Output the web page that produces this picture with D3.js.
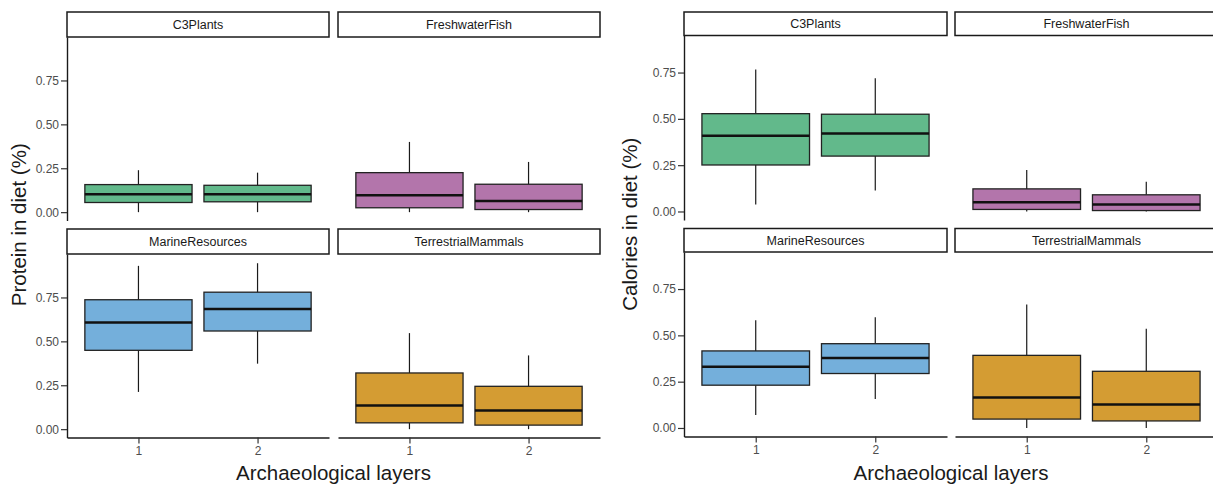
<!DOCTYPE html>
<html>
<head>
<meta charset="utf-8">
<script src="https://cdn.jsdelivr.net/npm/d3@7.9.0/dist/d3.min.js"></script>
<style>
  html, body { margin: 0; padding: 0; background: #fff; }
  svg { display: block; font-family: "Liberation Sans", Arial, sans-serif; }
</style>
</head>
<body>
<svg id="chart" width="1213" height="485"></svg>
<script>
// Facets (food groups) and archaeological layers
const facets = ['C3Plants', 'FreshwaterFish', 'MarineResources', 'TerrestrialMammals'];
const layers = ['1', '2'];
const facetColors = ['#62b98b', '#b375ab', '#74afdb', '#d49c33'];
const yTicks = [0, 0.25, 0.5, 0.75];

// Box stats per facet & layer: [facet, layer, min, q1, median, q3, max]
const proteinBoxes = [
  ['C3Plants', '1', 0.0, 0.055, 0.102, 0.157, 0.239],
  ['C3Plants', '2', 0.0, 0.059, 0.102, 0.153, 0.225],
  ['FreshwaterFish', '1', 0.0, 0.025, 0.097, 0.225, 0.40],
  ['FreshwaterFish', '2', 0.0, 0.015, 0.064, 0.159, 0.286],
  ['MarineResources', '1', 0.212, 0.449, 0.608, 0.737, 0.930],
  ['MarineResources', '2', 0.373, 0.559, 0.684, 0.780, 0.945],
  ['TerrestrialMammals', '1', 0.0, 0.036, 0.135, 0.320, 0.547],
  ['TerrestrialMammals', '2', 0.0, 0.023, 0.106, 0.244, 0.420],
];

const calorieBoxes = [
  ['C3Plants', '1', 0.038, 0.251, 0.409, 0.528, 0.767],
  ['C3Plants', '2', 0.113, 0.299, 0.421, 0.525, 0.719],
  ['FreshwaterFish', '1', 0.0, 0.011, 0.050, 0.122, 0.224],
  ['FreshwaterFish', '2', 0.0, 0.005, 0.038, 0.090, 0.161],
  ['MarineResources', '1', 0.070, 0.231, 0.330, 0.416, 0.581],
  ['MarineResources', '2', 0.156, 0.294, 0.378, 0.455, 0.598],
  ['TerrestrialMammals', '1', 0.0, 0.048, 0.165, 0.392, 0.667],
  ['TerrestrialMammals', '2', 0.0, 0.038, 0.127, 0.306, 0.536],
];

const svg = d3.select('#chart');

function drawFacetChart(cfg) {
  const g = svg.append('g');
  const color = d3.scaleOrdinal().domain(facets).range(facetColors);

  facets.forEach((facet, i) => {
    const col = i % 2, row = Math.floor(i / 2);
    const x0 = cfg.left + col * (cfg.colW + cfg.colGap);
    const stripTop = cfg.top + row * (cfg.stripH + cfg.panelH + cfg.rowGap);
    const pTop = stripTop + cfg.stripH;
    const pBot = pTop + cfg.panelH;

    const x = d3.scaleLinear().domain([0.4, 2.6]).range([x0, x0 + cfg.colW]);
    const y = d3.scaleLinear().domain(cfg.yDomain).range([pBot, pTop]);

    // strip
    g.append('rect')
      .attr('x', x0).attr('y', stripTop)
      .attr('width', cfg.colW).attr('height', cfg.stripH)
      .attr('fill', '#fff').attr('stroke', '#1a1a1a').attr('stroke-width', 1.5);
    g.append('text')
      .attr('x', x0 + cfg.colW / 2).attr('y', stripTop + cfg.stripH / 2)
      .attr('dy', '0.36em').attr('text-anchor', 'middle')
      .attr('font-size', 12.5).attr('fill', '#1a1a1a')
      .text(facet);

    // boxes
    const rows = cfg.data.filter(d => d[0] === facet);
    const boxes = g.append('g');
    rows.forEach(d => {
      const [, layer, mn, q1, med, q3, mx] = d;
      const cx = x(+layer);
      const half = (x(0.45) - x(0));
      boxes.append('line')
        .attr('x1', cx).attr('x2', cx).attr('y1', y(q3)).attr('y2', y(mx))
        .attr('stroke', '#1a1a1a').attr('stroke-width', 1.2);
      boxes.append('line')
        .attr('x1', cx).attr('x2', cx).attr('y1', y(q1)).attr('y2', y(mn))
        .attr('stroke', '#1a1a1a').attr('stroke-width', 1.2);
      boxes.append('rect')
        .attr('x', cx - half).attr('width', 2 * half)
        .attr('y', y(q3)).attr('height', y(q1) - y(q3))
        .attr('fill', color(facet)).attr('stroke', '#222').attr('stroke-width', 1.3);
      boxes.append('line')
        .attr('x1', cx - half).attr('x2', cx + half).attr('y1', y(med)).attr('y2', y(med))
        .attr('stroke', '#111').attr('stroke-width', 2.5);
    });

    // y axis on left column
    if (col === 0) {
      const ax = g.append('g')
        .attr('transform', `translate(${x0},0)`)
        .call(d3.axisLeft(y).tickValues(yTicks).tickFormat(d3.format('.2f')).tickSize(6).tickSizeOuter(0).tickPadding(2));
      ax.select('.domain').attr('stroke', '#1a1a1a').attr('stroke-width', 1.4);
      ax.selectAll('.tick line').attr('stroke', '#333').attr('stroke-width', 1.2);
      ax.selectAll('.tick text').attr('font-size', 12).attr('fill', '#4d4d4d').attr('font-family', 'Liberation Sans, Arial, sans-serif');
    }
    // x axis on bottom row
    if (row === 1) {
      const ax = g.append('g')
        .attr('transform', `translate(0,${pBot})`)
        .call(d3.axisBottom(x).tickValues(layers.map(Number)).tickFormat(d3.format('d')).tickSize(6).tickSizeOuter(0).tickPadding(3));
      ax.select('.domain').attr('stroke', '#1a1a1a').attr('stroke-width', 1.4);
      ax.selectAll('.tick line').attr('stroke', '#333').attr('stroke-width', 1.2);
      ax.selectAll('.tick text').attr('font-size', 12).attr('fill', '#4d4d4d').attr('font-family', 'Liberation Sans, Arial, sans-serif');
    }
  });

  const midY = cfg.top + cfg.stripH + cfg.panelH + cfg.rowGap / 2;
  g.append('text')
    .attr('transform', `translate(${cfg.yTitleX},${midY}) rotate(-90)`)
    .attr('text-anchor', 'middle').attr('font-size', 20.5).attr('fill', '#1a1a1a')
    .text(cfg.yTitle);
  g.append('text')
    .attr('x', cfg.left + cfg.colW + cfg.colGap / 2).attr('y', 480)
    .attr('text-anchor', 'middle').attr('font-size', 20.5).attr('fill', '#1a1a1a')
    .text('Archaeological layers');
}

drawFacetChart({
  data: proteinBoxes, yTitle: 'Protein in diet (%)',
  left: 67, colW: 262, colGap: 9, top: 12, stripH: 25, panelH: 183.5, rowGap: 8.5,
  yDomain: [-0.0475, 0.9975], yTitleX: 26
});

drawFacetChart({
  data: calorieBoxes, yTitle: 'Calories in diet (%)',
  left: 684, colW: 263, colGap: 8, top: 12, stripH: 23.5, panelH: 184.5, rowGap: 8.5,
  yDomain: [-0.046, 0.95], yTitleX: 637
});
</script>
</body>
</html>
